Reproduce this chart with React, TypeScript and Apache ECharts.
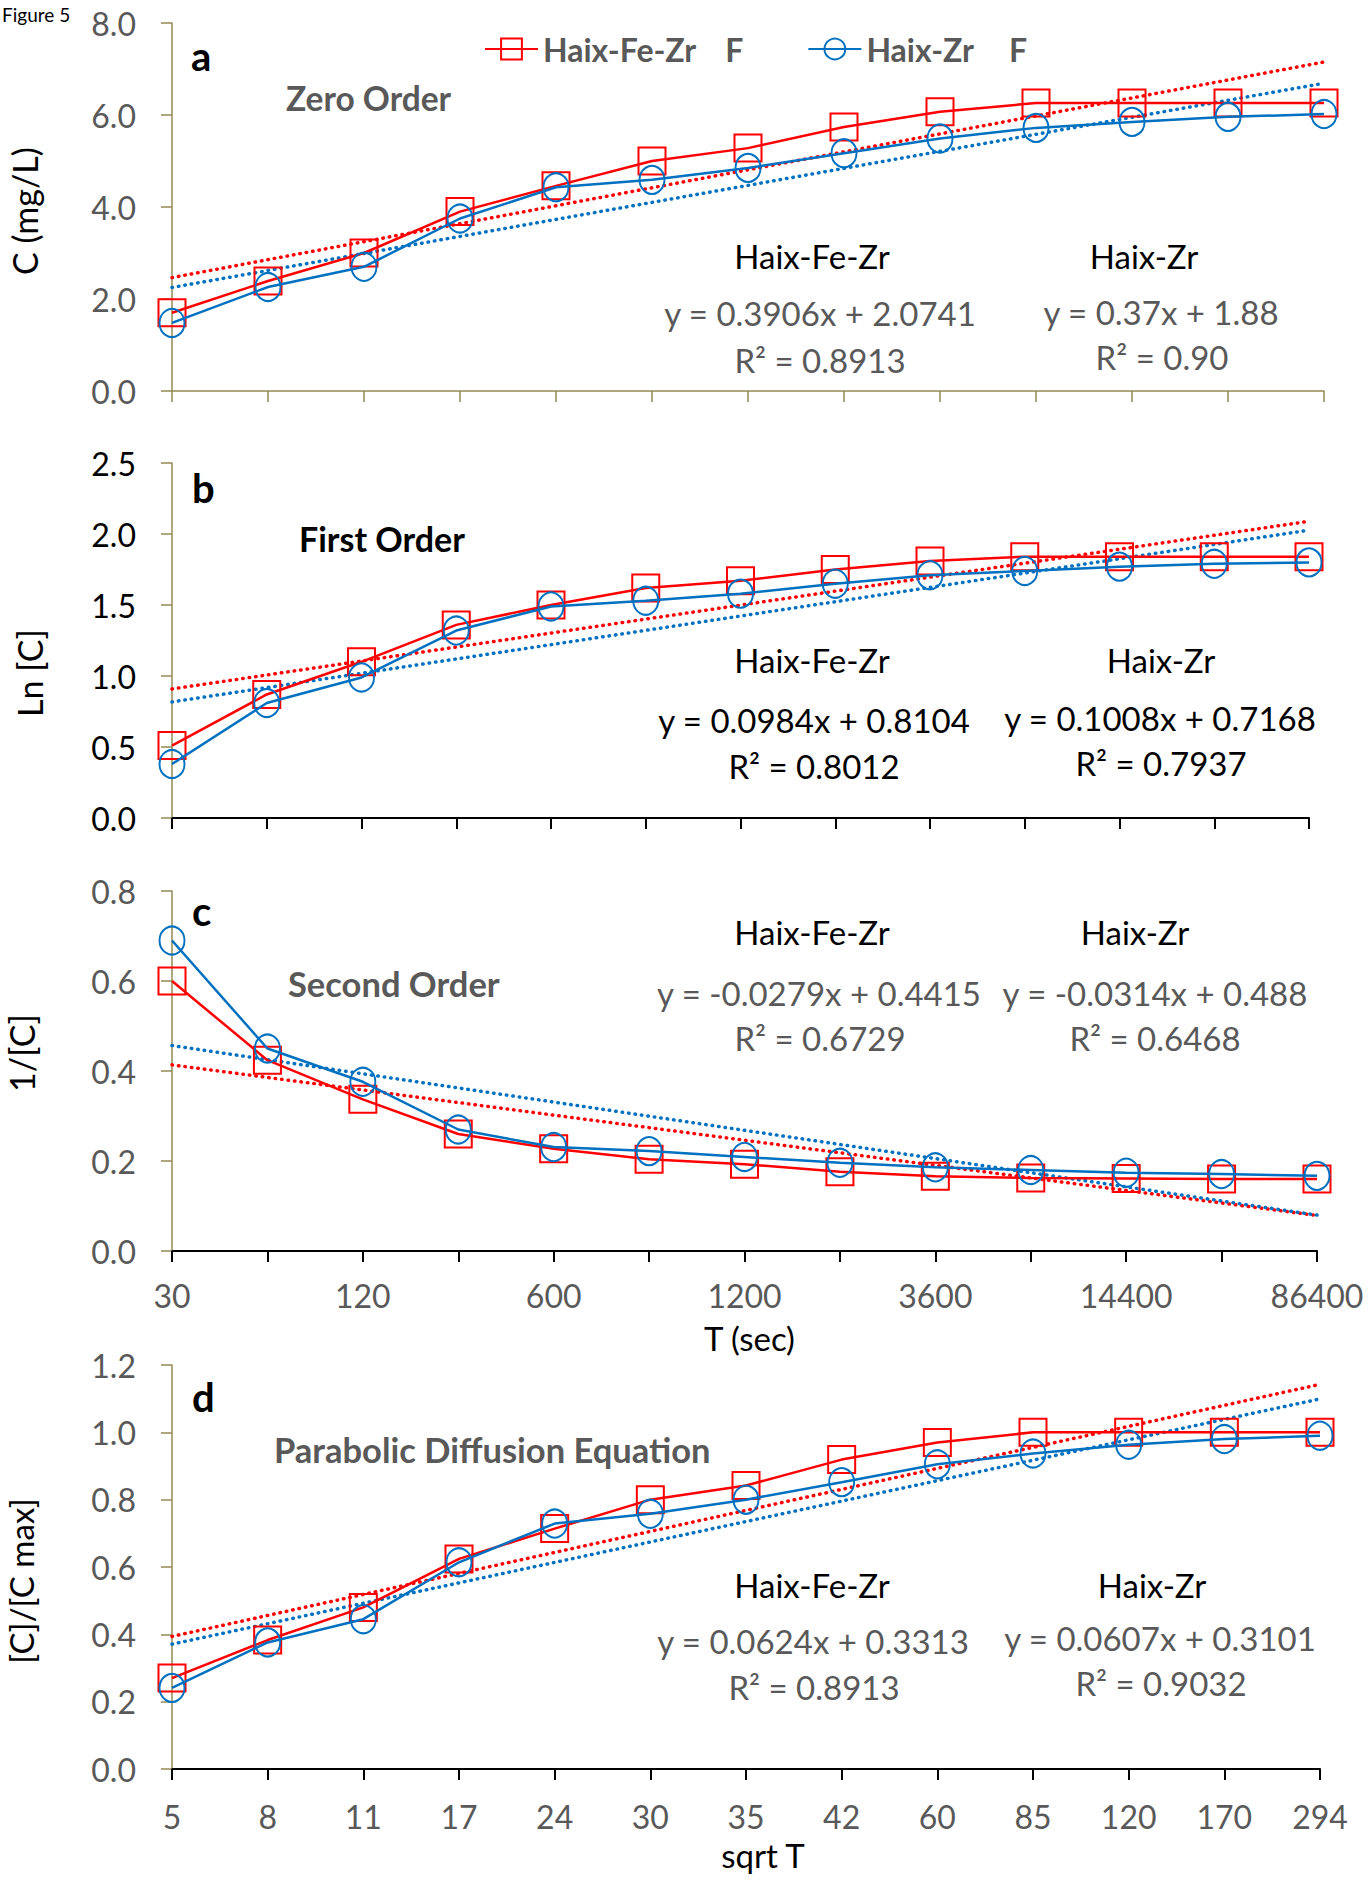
import React, { useEffect, useRef } from "react";
import * as echarts from "echarts";

// ---------- data ----------
const T_SEC = ["30", "60", "120", "300", "600", "900", "1200", "1800", "3600", "7200", "14400", "28800", "86400"];
const SQRT_T = ["5", "8", "11", "17", "24", "30", "35", "42", "60", "85", "120", "170", "294"];

const SERIES_NAMES = ["Haix-Fe-Zr", "Haix-Zr"];

// a: zero order, C (mg/L)
const zeroFeZr = [1.70, 2.39, 3.00, 3.90, 4.46, 5.00, 5.28, 5.74, 6.07, 6.26, 6.26, 6.26, 6.26];
const zeroZr = [1.48, 2.26, 2.70, 3.75, 4.43, 4.59, 4.85, 5.17, 5.49, 5.72, 5.85, 5.96, 6.02];
// b: first order, Ln [C]
const firstFeZr = [0.51, 0.87, 1.10, 1.36, 1.50, 1.62, 1.67, 1.75, 1.81, 1.84, 1.84, 1.84, 1.84];
const firstZr = [0.38, 0.81, 0.99, 1.32, 1.49, 1.53, 1.58, 1.65, 1.71, 1.74, 1.77, 1.79, 1.80];
// c: second order, 1/[C]
const secondFeZr = [0.60, 0.424, 0.337, 0.26, 0.227, 0.204, 0.193, 0.176, 0.166, 0.162, 0.161, 0.160, 0.160];
const secondZr = [0.69, 0.45, 0.376, 0.27, 0.231, 0.222, 0.209, 0.196, 0.186, 0.180, 0.174, 0.171, 0.167];
// d: parabolic diffusion, [C]/[C max]
const paraFeZr = [0.27, 0.383, 0.48, 0.624, 0.714, 0.80, 0.842, 0.919, 0.97, 1.0, 1.0, 1.0, 1.0];
const paraZr = [0.241, 0.376, 0.445, 0.614, 0.729, 0.758, 0.80, 0.852, 0.905, 0.937, 0.963, 0.98, 0.99];

// linear trend lines [slope, intercept] (x = 1..13)
const fitFeZr = [[0.3906, 2.0741], [0.0984, 0.8104], [-0.0279, 0.4415], [0.0624, 0.3313]];
const fitZr = [[0.37, 1.88], [0.1008, 0.7168], [-0.0314, 0.488], [0.0607, 0.3101]];

const eqFeZr = ["y = 0.3906x + 2.0741", "y = 0.0984x + 0.8104", "y = -0.0279x + 0.4415", "y = 0.0624x + 0.3313"];
const r2FeZr = ["R² = 0.8913", "R² = 0.8012", "R² = 0.6729", "R² = 0.8913"];
const eqZr = ["y = 0.37x + 1.88", "y = 0.1008x + 0.7168", "y = -0.0314x + 0.488", "y = 0.0607x + 0.3101"];
const r2Zr = ["R² = 0.90", "R² = 0.7937", "R² = 0.6468", "R² = 0.9032"];

const panelLetters = ["a", "b", "c", "d"];
const panelTitles = ["Zero Order", "First Order", "Second Order", "Parabolic Diffusion Equation"];
const yTitles = ["C (mg/L)", "Ln [C]", "1/[C]", "[C]/[C max]"];
const xTitles = ["", "", "T (sec)", "sqrt T"];
const yMax = [8, 2.5, 0.8, 1.2];
const yStep = [2, 0.5, 0.2, 0.2];

// ---------- style / layout ----------
const FONT = 'Lato, "Open Sans", sans-serif';
const GRAY = "#595959";
const KHAKI = "#948A54";
const RED = "#FF0000";
const BLUE = "#0070C0";

const GRIDS = [
  { left: 172, top: 23, width: 1152, height: 368 },
  { left: 172, top: 463, width: 1137, height: 355 },
  { left: 172, top: 891, width: 1145, height: 360 },
  { left: 172, top: 1365, width: 1148, height: 404 },
];
const letterPos = [[191, 56], [192, 488], [192, 911], [192, 1397]];
const titlePos = [[286, 98], [299, 538], [288, 983], [274, 1449]];
const titleSize = [33.5, 34, 34.5, 34.5];
const titleColor = [GRAY, "#000", GRAY, GRAY];
const labelColor = [GRAY, "#000", GRAY, GRAY];
const eqColor = [GRAY, "#000", GRAY, GRAY];
const xLineColor = [KHAKI, "#000", "#000", "#000"];
const yTitlePos = [[24, 211], [29, 673], [21, 1053], [21, 1581]];
// [headerX, headerY, eqX, eqY, r2X, r2Y]
const feZrTextPos = [
  [812, 256, 820, 313, 820, 360],
  [812, 660, 814, 720, 814, 766],
  [812, 932, 819, 993, 820, 1038],
  [812, 1585, 813, 1641, 814, 1687],
];
const zrTextPos = [
  [1144, 256, 1161, 312, 1162, 357],
  [1161, 660, 1160, 718, 1161, 763],
  [1135, 932, 1155, 993, 1155, 1038],
  [1152, 1585, 1160, 1638, 1161, 1683],
];

function txt(text: string, x: number, y: number, opts: any = {}) {
  const align = opts.align || "center";
  const vAlign = opts.vAlign || "middle";
  return {
    type: "text",
    x,
    y,
    rotation: opts.rotation || 0,
    silent: true,
    style: {
      text,
      x: 0,
      y: 0,
      fill: opts.color || "#000",
      fontSize: opts.size || 33,
      fontWeight: opts.weight || "normal",
      fontFamily: FONT,
      align,
      verticalAlign: vAlign,
      textAlign: align,
      textVerticalAlign: vAlign,
    },
  };
}

export default function App() {
  const ref = useRef<HTMLDivElement>(null);

  useEffect(() => {
    if (!ref.current) return;
    const chart = echarts.init(ref.current, undefined, { renderer: "svg" });

    const dataFeZr = [zeroFeZr, firstFeZr, secondFeZr, paraFeZr];
    const dataZr = [zeroZr, firstZr, secondZr, paraZr];

    const series: any[] = [];
    for (let p = 0; p < 4; p++) {
      const n = dataFeZr[p].length;
      const trend = (fit: number[]) => [
        [0, fit[0] * 1 + fit[1]],
        [n - 1, fit[0] * n + fit[1]],
      ];
      series.push({
        name: "Linear (Haix-Fe-Zr)",
        type: "line",
        xAxisIndex: p,
        yAxisIndex: p,
        data: trend(fitFeZr[p]),
        symbol: "none",
        lineStyle: { color: RED, width: 3.5, type: [0.5, 6], cap: "round" },
        z: 2,
      });
      series.push({
        name: "Linear (Haix-Zr)",
        type: "line",
        xAxisIndex: p,
        yAxisIndex: p,
        data: trend(fitZr[p]),
        symbol: "none",
        lineStyle: { color: BLUE, width: 3.5, type: [0.5, 6], cap: "round" },
        z: 2,
      });
      series.push({
        name: SERIES_NAMES[0],
        type: "line",
        xAxisIndex: p,
        yAxisIndex: p,
        data: dataFeZr[p],
        symbol: "rect",
        symbolSize: 27,
        itemStyle: { color: "transparent", borderColor: RED, borderWidth: 2 },
        lineStyle: { color: RED, width: 2.5 },
        z: 3,
      });
      series.push({
        name: SERIES_NAMES[1],
        type: "line",
        xAxisIndex: p,
        yAxisIndex: p,
        data: dataZr[p],
        symbol: "circle",
        symbolSize: [25, 28],
        itemStyle: { color: "transparent", borderColor: BLUE, borderWidth: 2 },
        lineStyle: { color: BLUE, width: 2.5 },
        z: 4,
      });
    }

    const graphics: any[] = [];
    graphics.push(txt("Figure 5", 2, 14, { align: "left", size: 19 }));
    for (let p = 0; p < 4; p++) {
      graphics.push(txt(panelLetters[p], letterPos[p][0], letterPos[p][1], { align: "left", size: 40, weight: "bold" }));
      graphics.push(txt(panelTitles[p], titlePos[p][0], titlePos[p][1], { align: "left", size: titleSize[p], weight: "bold", color: titleColor[p] }));
      graphics.push(txt(yTitles[p], yTitlePos[p][0], yTitlePos[p][1], { size: p === 3 ? 33 : 34, rotation: Math.PI / 2 }));
      const a = feZrTextPos[p];
      const b = zrTextPos[p];
      graphics.push(txt(SERIES_NAMES[0], a[0], a[1], { size: 33 }));
      graphics.push(txt(eqFeZr[p], a[2], a[3], { size: 33, color: eqColor[p] }));
      graphics.push(txt(r2FeZr[p], a[4], a[5], { size: 33, color: eqColor[p] }));
      graphics.push(txt(SERIES_NAMES[1], b[0], b[1], { size: 33 }));
      graphics.push(txt(eqZr[p], b[2], b[3], { size: 33, color: eqColor[p] }));
      graphics.push(txt(r2Zr[p], b[4], b[5], { size: 33, color: eqColor[p] }));
    }

    const option: any = {
      animation: false,
      backgroundColor: "#fff",
      textStyle: { fontFamily: FONT },
      legend: {
        data: SERIES_NAMES,
        left: 479,
        top: 28,
        itemWidth: 53,
        itemHeight: 26,
        itemGap: 64,
        selectedMode: false,
        formatter: (name: string) => (name === SERIES_NAMES[0] ? name + "{f1|F}" : name + "{f2|F}"),
        textStyle: {
          fontFamily: FONT,
          fontSize: 32,
          fontWeight: "bold",
          color: GRAY,
          rich: {
            f1: { fontFamily: FONT, fontSize: 32, fontWeight: "bold", color: GRAY, padding: [0, 0, 0, 29] },
            f2: { fontFamily: FONT, fontSize: 32, fontWeight: "bold", color: GRAY, padding: [0, 0, 0, 35] },
          },
        },
      },
      grid: GRIDS.map((g) => ({ ...g, containLabel: false })),
      xAxis: GRIDS.map((_, p) => ({
        type: "category",
        gridIndex: p,
        data: p === 3 ? SQRT_T : T_SEC,
        boundaryGap: false,
        name: xTitles[p],
        nameLocation: "middle",
        nameGap: p === 3 ? 69 : 70,
        nameTextStyle: {
          fontFamily: FONT,
          fontSize: 33,
          color: "#000",
          padding: p === 3 ? [0, 0, 0, 34] : [0, 0, 0, 10],
        },
        axisLine: { show: true, onZero: false, lineStyle: { color: xLineColor[p], width: p === 0 ? 1.5 : 2 } },
        axisTick: { show: true, interval: 0, length: 11, inside: false, lineStyle: { color: xLineColor[p], width: p === 0 ? 1.5 : 2 } },
        axisLabel: {
          show: p >= 2,
          interval: p === 2 ? 1 : 0,
          margin: p === 2 ? 28 : 31,
          fontFamily: FONT,
          fontSize: 32,
          color: GRAY,
        },
        splitLine: { show: false },
      })),
      yAxis: GRIDS.map((_, p) => ({
        type: "value",
        gridIndex: p,
        min: 0,
        max: yMax[p],
        interval: yStep[p],
        axisLine: { show: true, lineStyle: { color: KHAKI, width: 1.5 } },
        axisTick: { show: true, length: 11, inside: false, lineStyle: { color: KHAKI, width: 1.5 } },
        axisLabel: {
          margin: 36,
          fontFamily: FONT,
          fontSize: 32,
          color: labelColor[p],
          formatter: (v: number) => v.toFixed(1),
        },
        splitLine: { show: false },
      })),
      series,
      graphic: graphics,
    };

    chart.setOption(option);
    return () => chart.dispose();
  }, []);

  return (
    <div
      ref={ref}
      style={{ position: "absolute", left: 0, top: 0, width: 1369, height: 1884, background: "#fff" }}
    />
  );
}
